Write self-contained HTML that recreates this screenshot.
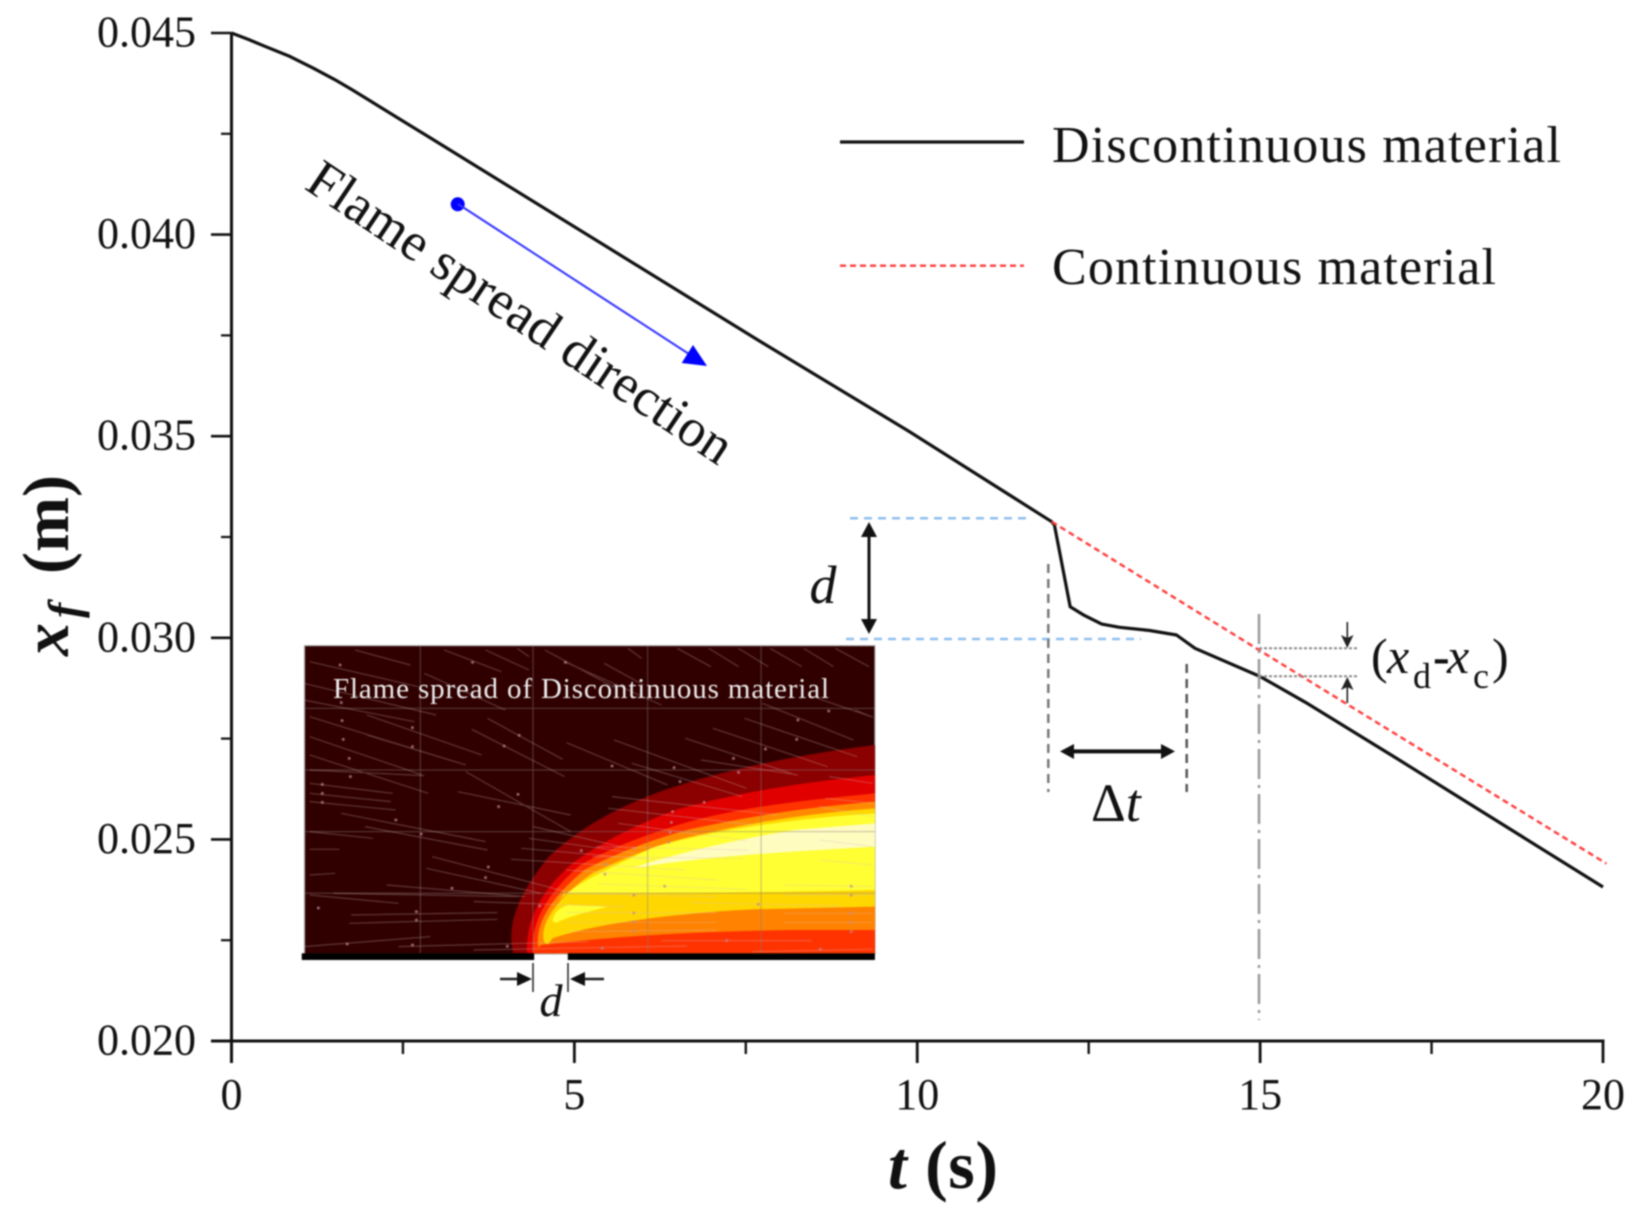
<!DOCTYPE html>
<html>
<head>
<meta charset="utf-8">
<title>Flame spread chart</title>
<style>
html,body{margin:0;padding:0;background:#fff;width:1638px;height:1218px;overflow:hidden}
svg{display:block;filter:blur(0.7px)}
text{font-family:"Liberation Serif",serif;fill:#111}
</style>
</head>
<body>
<svg id="chart" xmlns="http://www.w3.org/2000/svg" width="1638" height="1218" viewBox="0 0 1638 1218">
  <rect width="1638" height="1218" fill="#fff"/>

  <g id="inset">
    <g transform="translate(280,630) scale(0.3953,0.3333)">
      <rect x="62" y="47" width="1443" height="925" fill="#300000" stroke="#aaa" stroke-width="3"/>
      <path fill="#8b0000" d="M590 970C575 900 590 810 680 680C760 590 860 530 950 490C1100 425 1300 375 1505 345V970Z"/>
      <path fill="#e00000" d="M625 970C620 890 650 790 740 700C820 630 920 575 1000 540C1150 490 1300 460 1505 435V970Z"/>
      <path fill="#ff3300" d="M640 970C632 880 675 790 760 705C840 650 950 605 1020 580C1170 530 1330 510 1505 490V970Z"/>
      <path fill="#ff8a00" d="M655 960C640 880 690 800 770 720C850 670 950 625 1030 600C1200 555 1350 530 1505 515V970Z"/>
      <path fill="#ffd700" d="M668 935C655 880 705 800 790 730C860 690 960 640 1040 620C1220 570 1350 550 1505 535V970H700Z"/>
      <path fill="#ffff33" d="M705 810C750 760 830 715 950 650C1100 600 1300 565 1505 550V780C1300 785 1100 790 720 790Z"/>
      <path fill="#ffff33" d="M690 875C690 850 710 830 730 825L830 830C780 845 730 860 700 878Z"/>
      <path fill="#fffcc0" d="M890 715C1000 670 1150 630 1300 600L1505 580V650C1300 665 1100 675 890 715Z"/>
      <path fill="#ff8200" d="M690 925C800 880 1000 850 1200 838L1505 830V970H660Z"/>
      <path fill="#ff3300" d="M660 945C800 925 1000 905 1300 900H1505V970H640Z"/>
      <path fill="none" stroke="#8a7a7a" stroke-opacity="0.5" stroke-width="1" vector-effect="non-scaling-stroke" d="M355 47V985M640 47V985M930 47V985M1217 47V985M62 235H1505M62 420H1505M62 605H1505M62 790H1505"/>
      <path fill="none" stroke="#d8c0c0" stroke-opacity="0.28" stroke-width="1.2" vector-effect="non-scaling-stroke" d="M190 60L330 105M75 95L350 170M60 160L395 255M60 210L340 275M75 260L470 405M220 255L510 375M75 320L360 435M220 315L470 405M75 375L375 490M75 420L365 437M75 460L285 490M75 490L280 515M75 515L292 540M155 550L520 635M215 590L525 660M75 605L235 625M75 658L150 658M385 680L740 790M370 715L660 790M75 735L140 730M270 765L620 800M135 790L600 800M75 795L300 820M490 815L870 830M180 855L550 848M175 880L550 868M60 950L380 920M300 950L780 935M490 960L1030 948M450 485L735 555M525 265L715 388M485 298L720 440M470 425L735 605M610 655L950 690M585 688L1025 720M630 625L900 670M640 590L880 655M725 338L980 465M845 330L1180 475M890 400L1170 500M1025 325L1305 435M1095 295L1385 410M1175 265L1460 380M1220 220L1450 330M1360 205L1500 262M1455 240L1500 262M840 500L1260 555M830 535L1200 585M855 580L1180 632M800 650L1185 660M790 680L1170 685M725 720L1105 750M805 762L1180 778M730 790L1105 800M725 848L1105 848M725 877L1105 877M725 905L1105 900M1040 818L1420 828M1275 765L1500 770M1275 795L1500 795M1275 850L1500 850M1275 877L1500 877M965 932L1345 932M1195 965L1500 958M1365 530L1500 560M1365 630L1500 650M1365 690L1500 705M1390 440L1500 460M1380 505L1500 520M1065 390L1310 435M365 130L570 240M520 60L630 120M670 60L850 175M720 95L965 225M820 100L920 165M880 55L915 85M1005 55L1090 110M1085 55L1160 110M1160 55L1235 110M1240 55L1320 110M1325 55L1400 110M1405 55L1490 110M600 55L630 80M415 60L560 125"/>
      <path fill="none" stroke="#c08a96" stroke-opacity="0.7" stroke-width="3" stroke-linecap="round" vector-effect="non-scaling-stroke" d="M152 105h.1M487 97h.1M722 97h.1M155 218h.1M157 272h.1M335 293h.1M160 328h.1M335 350h.1M605 316h.1M567 348h.1M175 385h.1M178 440h.1M107 463h.1M107 490h.1M107 517h.1M293 570h.1M357 612h.1M602 493h.1M553 530h.1M840 408h.1M997 413h.1M1147 385h.1M1228 357h.1M1307 328h.1M1310 270h.1M1388 243h.1M1160 427h.1M1012 455h.1M1073 517h.1M993 545h.1M990 577h.1M987 607h.1M983 637h.1M895 655h.1M762 662h.1M823 702h.1M822 733h.1M527 711h.1M520 743h.1M435 775h.1M973 769h.1M895 796h.1M657 828h.1M1210 823h.1M97 834h.1M345 845h.1M345 870h.1M895 849h.1M895 876h.1M895 903h.1M1445 769h.1M1445 796h.1M1445 850h.1M1445 877h.1M1445 905h.1M1130 932h.1M575 949h.1M815 955h.1M1367 958h.1M170 942h.1M335 945h.1"/>
      <rect x="55" y="970" width="588" height="20" fill="#000"/>
      <rect x="728" y="970" width="777" height="20" fill="#000"/>
    </g>
    <text x="333" y="698" font-size="29" textLength="496" lengthAdjust="spacing" style="fill:#eee">Flame spread of Discontinuous material</text>
    <path d="M533 963V992M568 963V992" stroke="#222" stroke-width="1.5" fill="none"/>
    <path d="M500 979H520" stroke="#222" stroke-width="2.5" fill="none"/>
    <path d="M532 979L517 972V986Z" fill="#111"/>
    <path d="M604 979H584" stroke="#222" stroke-width="2.5" fill="none"/>
    <path d="M570 979L585 972V986Z" fill="#111"/>
    <text x="551" y="1016" font-size="46" font-style="italic" text-anchor="middle">d</text>
  </g>

  <g id="axes"></g>
  <g id="series"></g>

  <g>
    <text transform="translate(303,188) rotate(33.8)" font-size="54" textLength="500">Flame spread direction</text>
    <circle cx="457.7" cy="204.3" r="7" fill="#0000ff"/>
    <line x1="458" y1="204" x2="692" y2="356" stroke="#3333ff" stroke-width="2"/>
    <path d="M707 366L681.7 363L693 345Z" fill="#0000ff"/>

    <line x1="850" y1="518.3" x2="1029" y2="518.3" stroke="#8fc0ee" stroke-width="2.5" stroke-dasharray="8 6"/>
    <line x1="846" y1="639" x2="1141" y2="639" stroke="#8fc0ee" stroke-width="2.5" stroke-dasharray="8 6"/>
    <line x1="869" y1="530" x2="869" y2="626" stroke="#111" stroke-width="3"/>
    <path d="M869 522L861 537H877ZM869 634L861 619H877Z" fill="#111"/>
    <text x="823" y="603" font-size="54" font-style="italic" text-anchor="middle">d</text>

    <line x1="1048.3" y1="564" x2="1048.3" y2="792" stroke="#777" stroke-width="2.5" stroke-dasharray="9 6"/>
    <line x1="1186.7" y1="664" x2="1186.7" y2="792" stroke="#555" stroke-width="2.5" stroke-dasharray="9 6"/>
    <line x1="1070" y1="751.4" x2="1166" y2="751.4" stroke="#111" stroke-width="4"/>
    <path d="M1060 751.4L1074 744V759ZM1175 751.4L1161 744V759Z" fill="#111"/>
    <text x="1091" y="821" font-size="54">Δ<tspan font-style="italic">t</tspan></text>

    <line x1="1259" y1="614" x2="1259" y2="1020" stroke="#999" stroke-width="2.5" stroke-dasharray="30 6 3 6"/>
    <line x1="1259" y1="648.3" x2="1357" y2="648.3" stroke="#888" stroke-width="2" stroke-dasharray="3 2"/>
    <line x1="1259" y1="676.3" x2="1357" y2="676.3" stroke="#888" stroke-width="2" stroke-dasharray="3 2"/>
    <path d="M1347.3 622V640" stroke="#222" stroke-width="1.6" fill="none"/>
    <path d="M1347.3 648L1341 635L1347.3 638L1353.5 635Z" fill="#222"/>
    <path d="M1347.3 703V685" stroke="#222" stroke-width="1.6" fill="none"/>
    <path d="M1347.3 677L1341 690L1347.3 687L1353.5 690Z" fill="#222"/>
    <g font-size="50">
      <text x="1371" y="673">(</text>
      <text x="1387" y="673" font-style="italic">x</text>
      <text x="1413" y="688" font-size="36">d</text>
      <text x="1433" y="673" font-weight="bold">-</text>
      <text x="1447" y="673" font-style="italic">x</text>
      <text x="1473" y="688" font-size="36">c</text>
      <text x="1492" y="673">)</text>
    </g>
  </g>

  <g>
    <line x1="840" y1="142" x2="1024" y2="142" stroke="#111" stroke-width="3.2"/>
    <text x="1052" y="162" font-size="52" textLength="509">Discontinuous material</text>
    <line x1="840" y1="265.7" x2="1024" y2="265.7" stroke="#ff3b3b" stroke-width="2.4" stroke-dasharray="6 4"/>
    <text x="1052" y="284" font-size="52" textLength="444">Continuous material</text>
  </g>

  <text x="888" y="1188" font-size="68" font-weight="bold" textLength="110"><tspan font-style="italic">t</tspan> (s)</text>
  <g transform="translate(68,656) rotate(-90)" font-weight="bold">
    <text font-size="66" font-style="italic" x="0" y="0">x</text>
    <text font-size="46" font-style="italic" x="38" y="12">f</text>
    <text font-size="66" x="82" y="0">(m)</text>
  </g>
</svg>
<script>
var xMajorTicks = [0, 5, 10, 15, 20];
var xMinorTicks = [2.5, 7.5, 12.5, 17.5];
var xTickLabels = ["0", "5", "10", "15", "20"];
var yMajorTicks = [0.045, 0.040, 0.035, 0.030, 0.025, 0.020];
var yMinorTicks = [0.0425, 0.0375, 0.0325, 0.0275, 0.0225];
var yTickLabels = ["0.045", "0.040", "0.035", "0.030", "0.025", "0.020"];

var discontinuousT = [0, 0.25, 0.5, 0.85, 1.19, 1.5, 1.75, 2, 2.4, 2.85, 3.91, 7.7, 9.88, 11.96, 12.0, 12.23, 12.42, 12.69, 12.95, 13.39, 13.78, 14.05, 15, 15.66, 17, 20];
var discontinuousX = [0.045, 0.04484, 0.04466, 0.04442, 0.04413, 0.04385, 0.0436, 0.04334, 0.04292, 0.04245, 0.04134, 0.03736, 0.03512, 0.03288, 0.0328, 0.03077, 0.03057, 0.03034, 0.03026, 0.03018, 0.03007, 0.02974, 0.02904, 0.0284, 0.027, 0.02382];
var continuousT = [11.96, 14.97, 20.05];
var continuousX = [0.03288, 0.02971, 0.0244];

var svgNS = "http://www.w3.org/2000/svg";
function xScale(t) { return 231.5 + t * (1603 - 231.5) / 20; }
function yScale(v) { return 1041 - (v - 0.020) * (1041 - 33) / 0.025; }
function makeEl(tag, parent, attrs) {
  var el = document.createElementNS(svgNS, tag);
  for (var k in attrs) { el.setAttribute(k, attrs[k]); }
  parent.appendChild(el);
  return el;
}
function linePath(ts, vs) {
  return ts.map(function (t, i) {
    return (i ? "L" : "M") + xScale(t).toFixed(1) + " " + yScale(vs[i]).toFixed(1);
  }).join("");
}

var axes = document.getElementById("axes");
var series = document.getElementById("series");

var yAxisLine = makeEl("line", axes, {x1: xScale(0), y1: yScale(0.045), x2: xScale(0), y2: 1063, stroke: "#111", "stroke-width": 3});


var xAxisLine = makeEl("line", axes, {x1: 211, y1: yScale(0.020), x2: xScale(20) + 1.5, y2: yScale(0.020), stroke: "#111", "stroke-width": 3});



yMajorTicks.forEach(function (v, i) {
  var tick = makeEl("line", axes, {x1: 211, y1: yScale(v), x2: xScale(0), y2: yScale(v), stroke: "#111", "stroke-width": 2.6});
  
  
  var label = makeEl("text", axes, {x: 196, y: yScale(v) + 13.5, "font-size": 44, "text-anchor": "end"});
  label.textContent = yTickLabels[i];
  
  
});
yMinorTicks.forEach(function (v) {
  var tick = makeEl("line", axes, {x1: 221, y1: yScale(v), x2: xScale(0), y2: yScale(v), stroke: "#111", "stroke-width": 2.2});
  
  
});
xMajorTicks.forEach(function (t, i) {
  var tick = makeEl("line", axes, {x1: xScale(t), y1: yScale(0.020), x2: xScale(t), y2: 1063, stroke: "#111", "stroke-width": 2.8});
  
  
  var label = makeEl("text", axes, {x: xScale(t), y: 1109, "font-size": 44, "text-anchor": "middle"});
  label.textContent = xTickLabels[i];
  
  
});
xMinorTicks.forEach(function (t) {
  var tick = makeEl("line", axes, {x1: xScale(t), y1: yScale(0.020), x2: xScale(t), y2: 1054, stroke: "#111", "stroke-width": 2.4});
  
  
});

var discontinuousLine = makeEl("path", series, {d: linePath(discontinuousT, discontinuousX), fill: "none", stroke: "#111", "stroke-width": 3.2, "stroke-linejoin": "round"});


var continuousLine = makeEl("path", series, {d: linePath(continuousT, continuousX), fill: "none", stroke: "#ff3b3b", "stroke-width": 2.4, "stroke-dasharray": "6 4"});


</script>
</body>
</html>
